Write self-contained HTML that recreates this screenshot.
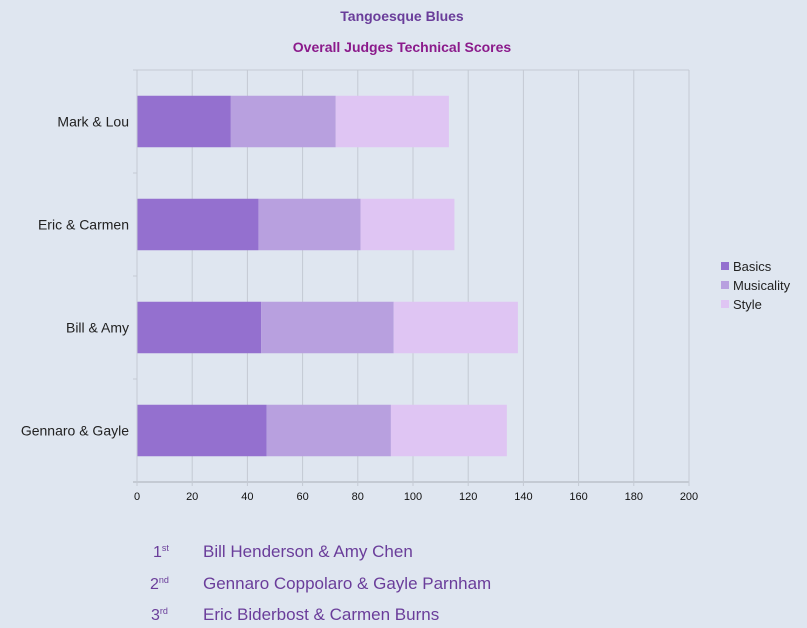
<!DOCTYPE html>
<html><head><meta charset="utf-8"><style>
body{margin:0;background:#dfe6f0;font-family:"Liberation Sans",sans-serif}
svg{display:block}
</style></head><body>
<svg id="c" width="807" height="628">
<rect width="807" height="628" fill="#dfe6f0"/>
<text x="402" y="21" text-anchor="middle" font-size="14" font-weight="bold" fill="#6a3d9a">Tangoesque Blues</text>
<text x="402" y="52" text-anchor="middle" font-size="14" font-weight="bold" fill="#8b1a8b">Overall Judges Technical Scores</text>
<g id="grid"></g><g id="bars"></g><g id="axes"></g>
<g>
<rect x="721" y="262" width="8" height="8" fill="#9470cf"/>
<text x="733" y="271" font-size="13" fill="#222">Basics</text>
<rect x="721" y="281" width="8" height="8" fill="#b8a0df"/>
<text x="733" y="290" font-size="13" fill="#222">Musicality</text>
<rect x="721" y="300" width="8" height="8" fill="#dfc5f3"/>
<text x="733" y="309" font-size="13" fill="#222">Style</text>
</g>
<g font-size="17" fill="#6a3d9a">
<text x="153" y="557" font-size="16">1<tspan font-size="9" dy="-6">st</tspan></text>
<text x="203" y="557">Bill Henderson &amp; Amy Chen</text>
<text x="150" y="589" font-size="16">2<tspan font-size="9" dy="-6">nd</tspan></text>
<text x="203" y="589">Gennaro Coppolaro &amp; Gayle Parnham</text>
<text x="151" y="620" font-size="16">3<tspan font-size="9" dy="-6">rd</tspan></text>
<text x="203" y="620">Eric Biderbost &amp; Carmen Burns</text>
</g>
</svg>
<script>
const categories=["Mark & Lou","Eric & Carmen","Bill & Amy","Gennaro & Gayle"];
const basics=[34,44,45,47];
const musicality=[38,37,48,45];
const style=[41,34,45,42];
const ticks=[0,20,40,60,80,100,120,140,160,180,200];
const NS="http://www.w3.org/2000/svg";
const X0=137,X1=689,Y0=70,Y1=482,xMax=200;
const xs=v=>X0+v/xMax*(X1-X0);
const band=(Y1-Y0)/categories.length;
const ys=i=>Y0+i*band;
function mk(t,a,p){const e=document.createElementNS(NS,t);for(const k in a)e.setAttribute(k,a[k]);p.appendChild(e);return e;}
const gridG=document.getElementById('grid'),barsG=document.getElementById('bars'),axesG=document.getElementById('axes');
ticks.forEach(t=>{
 const l=mk('line',{x1:xs(t),x2:xs(t),y1:Y0,y2:Y1+4,stroke:'#c4cad3','stroke-width':1},gridG);
 
 
 const tx=mk('text',{x:xs(t),y:Y1+18,'text-anchor':'middle','font-size':11,fill:'#111'},axesG);
 tx.textContent=t;
 
 
});
const topBorder=mk('line',{x1:X0-4,x2:X1,y1:Y0,y2:Y0,stroke:'#c4cad3'},gridG);


const xa=mk('line',{x1:X0-4,x2:X1,y1:Y1,y2:Y1,stroke:'#c4cad3','stroke-width':2},axesG);


const ya=mk('line',{x1:X0,x2:X0,y1:Y0,y2:Y1,stroke:'#c4cad3'},axesG);


const series=[[basics,'#9470cf','basics'],[musicality,'#b8a0df','musicality'],[style,'#dfc5f3','style']];
categories.forEach((c,i)=>{
 const tk=mk('line',{x1:X0-4,x2:X0,y1:ys(i+1),y2:ys(i+1),stroke:'#c4cad3'},axesG);
 
 
 const bh=band*0.5,by=ys(i)+band*0.25;
 let acc=0;
 series.forEach(([arr,col,nm])=>{
  const r=mk('rect',{x:xs(acc),y:by,width:xs(acc+arr[i])-xs(acc),height:bh,fill:col},barsG);
  
  
  acc+=arr[i];
 });
 const t=mk('text',{x:X0-8,y:ys(i)+band/2+5,'text-anchor':'end','font-size':14,fill:'#222'},axesG);
 t.textContent=c;
 
 
});
</script>
</body></html>
